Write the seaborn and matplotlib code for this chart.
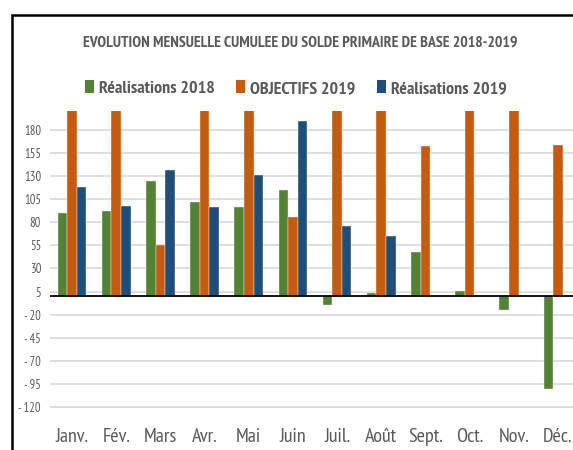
import numpy as np
import pandas as pd
import matplotlib
matplotlib.use("Agg")
import matplotlib.pyplot as plt
import seaborn as sns
from matplotlib.patches import Rectangle, Patch
from matplotlib.ticker import FixedLocator, FuncFormatter

months = ["Janv.", "Fév.", "Mars", "Avr.", "Mai", "Juin", "Juil.", "Août", "Sept.", "Oct.", "Nov.", "Déc."]
real_2018 = [90, 92, 125, 102, 96, 115, -9, 3, 48, 6, -15, -100]
obj_2019 = [230, 230, 55, 230, 230, 86, 230, 230, 163, 230, 230, 164]
real_2019 = [118, 98, 136, 97, 131, 190, 76, 65, np.nan, np.nan, np.nan, np.nan]
series = ["Réalisations 2018", "OBJECTIFS 2019", "Réalisations 2019"]
colors = ["#548235", "#C55A11", "#1F4E79"]
yticks = [180, 155, 130, 105, 80, 55, 30, 5, -20, -45, -70, -95, -120]
title = "EVOLUTION MENSUELLE CUMULEE DU SOLDE PRIMAIRE DE BASE 2018-2019"

df = pd.DataFrame({
    "mois": months * 3,
    "serie": [series[0]] * 12 + [series[1]] * 12 + [series[2]] * 12,
    "valeur": real_2018 + obj_2019 + real_2019,
})

sns.set_theme(style="white")
FONT = ["PT Sans Narrow", "DejaVu Sans"]
plt.rcParams["font.family"] = FONT
TXT = "#595959"

fig = plt.figure(figsize=(5.73, 4.5), dpi=100)
W, H = 573, 450
ax = fig.add_axes([50 / W, 1 - 416.4 / H, 530 / W, (416.4 - 111.3) / H])

sns.barplot(data=df, x="mois", y="valeur", hue="serie", hue_order=series,
            order=months, palette=colors, width=0.65, ax=ax,
            edgecolor="#f0f0f0", linewidth=0.3, legend=False, saturation=1)

ax.set_xlim(-0.5, 11.5)
ax.set_ylim(-130, 200)
ax.yaxis.set_major_locator(FixedLocator(yticks))
ax.yaxis.set_major_formatter(FuncFormatter(lambda v, p: f"- {int(abs(v))}" if v < 0 else f"{int(v)}"))
ax.grid(axis="y", color="#D9D9D9", linewidth=1.2)
ax.set_axisbelow(True)
for s in ax.spines.values():
    s.set_visible(False)
ax.axhline(0, color="black", linewidth=1.3, zorder=5)
ax.set_xlabel("")
ax.set_ylabel("")
ax.tick_params(axis="y", length=0, labelsize=9, labelcolor=TXT, pad=6.5)
ax.tick_params(axis="x", length=0, labelsize=14.5, labelcolor=TXT, pad=8)

fig.text(300.5 / W, 1 - 42.8 / H, title, ha="center", va="center", fontsize=11.3,
         fontweight="bold", color=TXT)

handles = [Patch(facecolor=c, edgecolor="none") for c in colors]
leg = fig.legend(handles, series, loc="center", bbox_to_anchor=(296 / W, 1 - 88.5 / H),
                 ncol=3, frameon=False, handlelength=0.5, handleheight=0.67,
                 handletextpad=0.28, columnspacing=1.2, borderpad=0, borderaxespad=0,
                 prop={"family": FONT, "weight": "bold", "size": 13})
for t in leg.get_texts():
    t.set_color(TXT)

fig.patches.append(Rectangle((12 / W, -0.2), 2.0, (1 - 15 / H) + 0.2,
                             transform=fig.transFigure, fill=False,
                             edgecolor="black", linewidth=1.8, zorder=10))

fig.savefig("out.png", dpi=100)
